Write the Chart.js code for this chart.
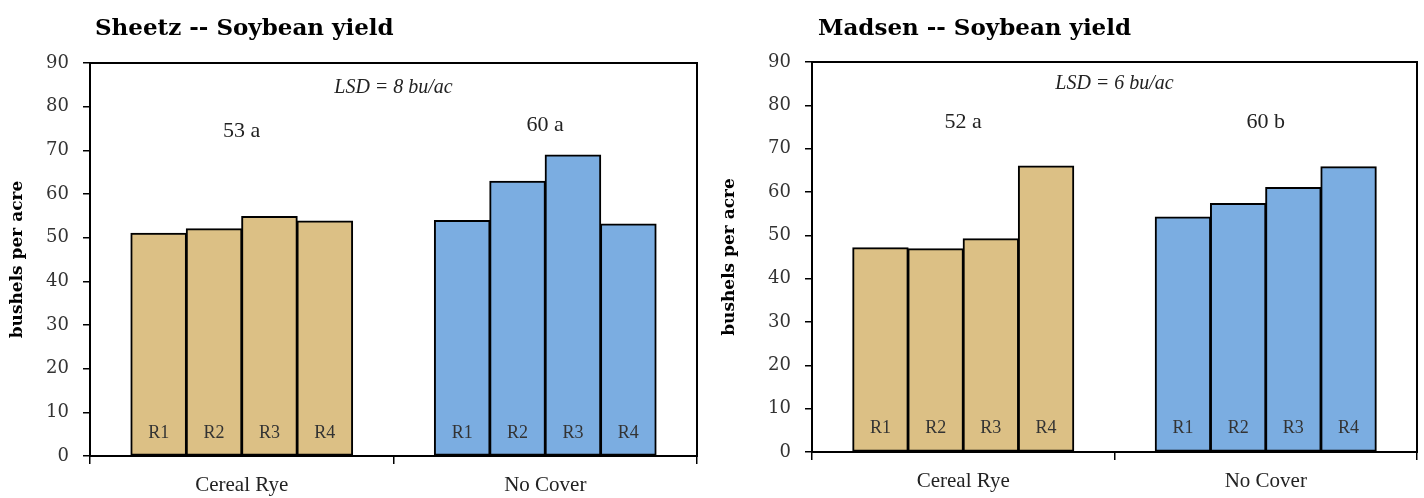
<!DOCTYPE html>
<html>
<head>
<meta charset="utf-8">
<title>Soybean yield by cover treatment</title>
<script src="https://cdn.jsdelivr.net/npm/chart.js@4/dist/chart.umd.min.js"></script>
<style>
  html, body { margin: 0; padding: 0; background: #ffffff; }
  #wrap { position: relative; width: 1424px; height: 498px; overflow: hidden; }
  .panel { position: absolute; top: 0; width: 712px; height: 498px; }
</style>
</head>
<body>
<div id="wrap">
  <div class="panel" style="left:0"><canvas id="sheetz" width="712" height="498"></canvas></div>
  <div class="panel" style="left:712px"><canvas id="madsen" width="712" height="498"></canvas></div>
</div>
<script>
// Treatments on the x axis and the four replicates within each
const categories = ['Cereal Rye', 'No Cover'];
const replicates = ['R1', 'R2', 'R3', 'R4'];
const yTicks = [0, 10, 20, 30, 40, 50, 60, 70, 80, 90];

// Sheetz farm, bushels per acre by replicate
const sheetzRye = [51.0, 52.0, 54.8, 53.8];
const sheetzNoCover = [53.9, 62.9, 68.9, 53.1];
const sheetzMeans = ['53 a', '60 a'];
const sheetzLsd = 'LSD = 8 bu/ac';

// Madsen farm, bushels per acre by replicate
const madsenRye = [47.1, 46.9, 49.2, 66.0];
const madsenNoCover = [54.2, 57.3, 61.0, 65.8];
const madsenMeans = ['52 a', '60 b'];
const madsenLsd = 'LSD = 6 bu/ac';

const RYE_COLOR = '#DCC085';
const NOCOVER_COLOR = '#7BADE1';
const SERIF = '"Liberation Serif", "DejaVu Serif", serif';
const WIDE_SERIF = '"DejaVu Serif", "Liberation Serif", serif';

// Box around the plot, replicate names inside bars, treatment means, LSD note and title
const panelDecor = {
  id: 'panelDecor',
  afterDatasetsDraw(chart, args, opts) {
    const { ctx, chartArea: a, scales } = chart;
    ctx.save();
    // replicate labels near the foot of each bar
    ctx.fillStyle = '#333';
    ctx.font = '18px ' + SERIF;
    ctx.textAlign = 'center';
    ctx.textBaseline = 'middle';
    const base = scales.y.getPixelForValue(0);
    chart.data.datasets.forEach((ds, i) => {
      chart.getDatasetMeta(i).data.forEach(bar => {
        ctx.fillText(ds.label, bar.x, base - opts.repOffset);
      });
    });
    // treatment means with letter groups
    ctx.fillStyle = '#222';
    ctx.font = '22px ' + SERIF;
    opts.means.forEach((txt, i) => {
      ctx.fillText(txt, scales.x.getPixelForValue(i), scales.y.getPixelForValue(opts.meanY[i]));
    });
    // LSD note
    ctx.font = 'italic 20px ' + SERIF;
    ctx.fillText(opts.lsd, (a.left + a.right) / 2, a.top + opts.lsdOffset);
    // frame
    ctx.strokeStyle = '#000';
    ctx.lineWidth = 2;
    ctx.strokeRect(a.left, a.top, a.right - a.left, a.bottom - a.top);
    // title
    ctx.fillStyle = '#000';
    ctx.font = 'bold 23px ' + WIDE_SERIF;
    ctx.textAlign = 'left';
    ctx.textBaseline = 'alphabetic';
    ctx.fillText(opts.title, a.left + opts.titleDx, a.top - opts.titleDy);
    ctx.restore();
  }
};

function makePanel(id, rye, noCover, deco, geom) {
  const datasets = replicates.map((r, i) => ({
    label: r,
    data: [rye[i], noCover[i]],
    backgroundColor: [RYE_COLOR, NOCOVER_COLOR],
    borderColor: '#000',
    borderWidth: 2,
    borderSkipped: false,
    inflateAmount: 0.6,
    categoryPercentage: 0.73,
    barPercentage: 1.0
  }));
  return new Chart(document.getElementById(id), {
    type: 'bar',
    data: { labels: categories, datasets },
    plugins: [panelDecor],
    options: {
      responsive: false,
      devicePixelRatio: 1,
      animation: false,
      layout: { padding: { left: 0, right: geom.padRight, top: geom.padTop, bottom: 0 } },
      plugins: {
        legend: { display: false },
        tooltip: { enabled: false },
        panelDecor: deco
      },
      scales: {
        x: {
          offset: true,
          grid: { offset: true, drawOnChartArea: false, drawTicks: true, tickLength: 8, color: '#000', lineWidth: 1.5 },
          border: { display: true, color: '#000', width: 2 },
          ticks: { color: '#222', font: { family: SERIF, size: 21 }, padding: 9 },
          afterFit: s => { s.height = geom.xHeight; }
        },
        y: {
          min: yTicks[0],
          max: yTicks[yTicks.length - 1],
          afterBuildTicks: s => { s.ticks = yTicks.map(v => ({ value: v })); },
          grid: { drawOnChartArea: false, drawTicks: true, tickLength: 7, color: '#000', lineWidth: 1.5 },
          border: { display: true, color: '#000', width: 2 },
          ticks: { color: '#333', font: { family: WIDE_SERIF, size: 18 }, padding: 14 },
          title: { display: true, text: 'bushels per acre', color: '#000', font: { family: WIDE_SERIF, size: 17, weight: 'bold' }, padding: { top: 7, bottom: 4 } },
          afterFit: s => { s.width = geom.yWidth; }
        }
      }
    }
  });
}

makePanel('sheetz', sheetzRye, sheetzNoCover,
  { title: 'Sheetz -- Soybean yield', means: sheetzMeans, meanY: [74.4, 75.8], lsd: sheetzLsd,
    lsdOffset: 25, repOffset: 23, titleDx: 5, titleDy: 28 },
  { padRight: 15, padTop: 63, xHeight: 42, yWidth: 90 });

makePanel('madsen', madsenRye, madsenNoCover,
  { title: 'Madsen -- Soybean yield', means: madsenMeans, meanY: [76.2, 76.2], lsd: madsenLsd,
    lsdOffset: 22, repOffset: 24, titleDx: 6, titleDy: 27 },
  { padRight: 7, padTop: 62, xHeight: 46, yWidth: 100 });
</script>
</body>
</html>
